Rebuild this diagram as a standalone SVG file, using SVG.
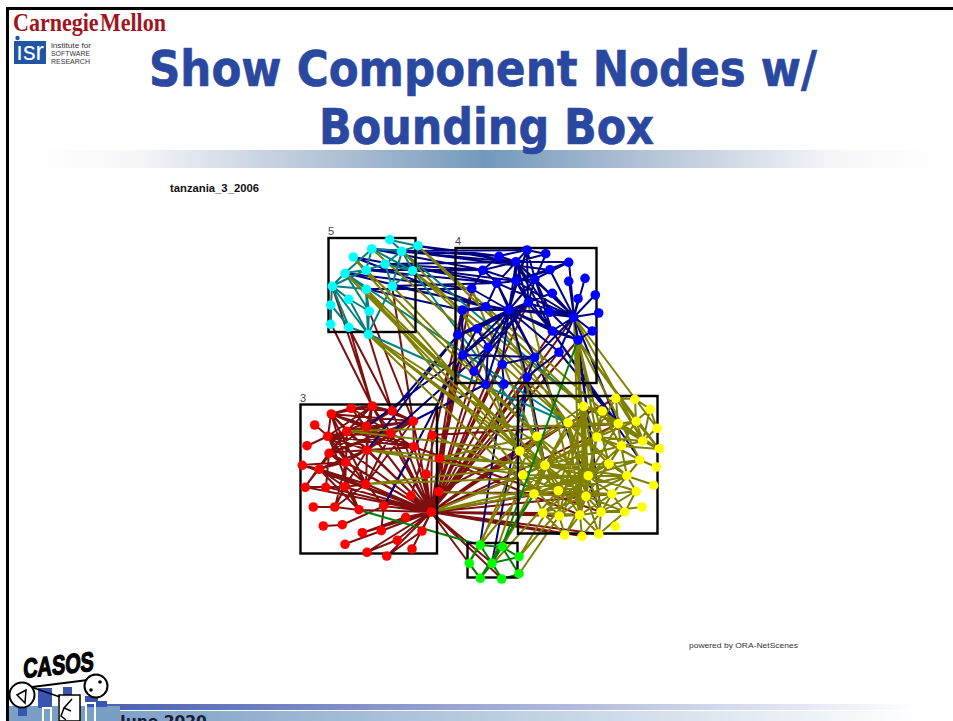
<svg xmlns="http://www.w3.org/2000/svg" width="953" height="721" viewBox="0 0 953 721">
<style>
.e{fill:none;stroke-width:2}
.m{stroke:#7d0f0f}.n{stroke:#000080}.t{stroke:#008080}.o{stroke:#808000}.g{stroke:#008000}
.box{fill:none;stroke:#000;stroke-width:2.4}
.lab{font:11px "Liberation Sans",Arial,sans-serif;fill:#444}
.tt{font:bold 50px "DejaVu Sans",Verdana,sans-serif;fill:#2a48a0;stroke:#2a48a0;stroke-width:.7;text-anchor:middle}
.small{font-family:"Liberation Sans",Arial,sans-serif;fill:#333}
#cy circle{fill:#00ffff}#bl circle{fill:#0000ff}#re circle{fill:#ff0000}#ye circle{fill:#ffff00}#gr circle{fill:#00ff00}
</style>
<defs>
<linearGradient id="top" x1="0" x2="1" y1="0" y2="0"><stop offset="0" stop-color="#fff"/><stop offset=".12" stop-color="#f4f6f9"/><stop offset=".25" stop-color="#cbd5e2"/><stop offset=".38" stop-color="#a0b6ce"/><stop offset=".5" stop-color="#7299bd"/><stop offset=".62" stop-color="#a0b6ce"/><stop offset=".75" stop-color="#cbd5e2"/><stop offset=".88" stop-color="#f4f6f9"/><stop offset="1" stop-color="#fff"/></linearGradient>
<linearGradient id="bt1" x1="0" x2="1" y1="0" y2="0"><stop offset="0" stop-color="#4a5fb0"/><stop offset="1" stop-color="#fff"/></linearGradient>
<linearGradient id="bt2" x1="0" x2="1" y1="0" y2="0"><stop offset="0" stop-color="#7a9fc4"/><stop offset="1" stop-color="#fff"/></linearGradient>
</defs>
<rect width="953" height="721" fill="#fff"/>
<path d="M7.500 721V8.500H953" fill="none" stroke="#000" stroke-width="3"/>
<rect x="30" y="150" width="912" height="18" fill="url(#top)"/>
<rect x="100" y="704" width="820" height="6" fill="url(#bt1)"/>
<rect x="100" y="711" width="820" height="10" fill="url(#bt2)"/>
<g id="cmu-logo">
<text x="13" y="31" font-family="Liberation Serif,serif" font-weight="bold" font-size="26" word-spacing="-5" fill="#a2141c" textLength="153" lengthAdjust="spacingAndGlyphs">Carnegie Mellon</text>
<circle cx="17.500" cy="38" r="2.200" fill="#1f55a5"/>
<rect x="14" y="41" width="32" height="23" fill="#1f55a5"/>
<text x="16" y="60" font-family="Liberation Sans,sans-serif" font-size="25" fill="#fff" textLength="28" lengthAdjust="spacingAndGlyphs">ısr</text>
<text x="51" y="48" class="small" font-size="8" fill="#777" textLength="40" lengthAdjust="spacingAndGlyphs">institute for</text>
<text x="51" y="56" class="small" font-size="7" textLength="39" lengthAdjust="spacingAndGlyphs">SOFTWARE</text>
<text x="51" y="64" class="small" font-size="7" textLength="39" lengthAdjust="spacingAndGlyphs">RESEARCH</text>
</g>
<text x="483" y="86" class="tt" textLength="668" lengthAdjust="spacingAndGlyphs">Show Component Nodes w/</text>
<text x="486.500" y="144" class="tt" textLength="335" lengthAdjust="spacingAndGlyphs">Bounding Box</text>
<text x="170" y="192" font-family="Liberation Sans,sans-serif" font-size="11" font-weight="bold" fill="#111" textLength="89" lengthAdjust="spacingAndGlyphs">tanzania_3_2006</text>
<text x="689" y="648" class="small" font-size="8" textLength="109" lengthAdjust="spacingAndGlyphs">powered by ORA-NetScenes</text>
<g id="casos-logo">
<path d="M9 706H58V721H9zM80 706H120V721H80z" fill="#7a9fc4"/>
<path d="M38 688h14v20H38zM18 708h9v8h-9zM63 687h9v9h-9zM85 696h13v5h9v6H85z" fill="#3a55b0"/>
<path d="M43 721V708h8v13M86 721V703h9v18" stroke="#fff" stroke-width="2" fill="none"/>
<rect x="59" y="695" width="21" height="26" fill="#fff" stroke="#000" stroke-width="1.500"/>
<path d="M72 699L64 708 71 711M64 708L61 716 66 720" fill="none" stroke="#000" stroke-width="1.500"/>
<text transform="translate(23 678) rotate(-6) skewX(-8)" font-family="Liberation Sans,sans-serif" font-weight="bold" font-size="27" fill="#000" textLength="71" lengthAdjust="spacingAndGlyphs" stroke="#000" stroke-width="1.300">CASOS</text>
<path d="M32 687L88 680M34 688L60 697" stroke="#000" stroke-width="1.800" fill="none"/>
<circle cx="22" cy="695" r="12.500" fill="#fff" stroke="#000" stroke-width="2"/>
<path d="M26 690L17 695 25 703Z" fill="none" stroke="#000" stroke-width="1.500"/>
<circle cx="96" cy="686" r="11.500" fill="#fff" stroke="#000" stroke-width="2"/>
<circle cx="100" cy="682" r="1.800"/><circle cx="91" cy="690" r="1.800"/>
</g>
<text x="120" y="727" font-family="DejaVu Sans,sans-serif" font-weight="bold" font-size="15.500" fill="#1a1a3a">June 2020</text>

<g id="connectors">
<path class="e m" d="M431 512L372 406M431 512L351 408M431 512L392 411M431 512L331 414M431 512L413 421M431 512L366 427M431 512L347 431M431 512L391 433M431 512L328 436M431 512L432 435M431 512L414 447M431 512L367 450M431 512L329 453M431 512L439 458M431 512L346 462M431 512L302 465M431 512L319 469M431 512L426 474M431 512L305 487M431 512L326 487M431 512L345 487M431 512L366 484M431 512L439 492M431 512L411 496M431 512L359 510M431 512L384 506M431 512L406 517M431 512L362 533M431 512L381 531M431 512L422 531M431 512L397 540M431 512L367 552M431 512L387 556M431 512L412 549M431 512L472 289M431 512L462 310M431 512L458 335M431 512L463 355M431 512L474 371M431 512L486 384M431 512L504 384M431 512L502 364M431 512L488 347M431 512L527 377M431 512L535 357M431 512L559 352M431 512L578 340M431 512L574 317M431 512L552 331M431 512L528 303M431 512L520 451M431 512L537 436M431 512L568 423M431 512L618 424M431 512L545 465M431 512L523 475M431 512L534 494M431 512L558 491M431 512L612 494M431 512L580 515M431 512L559 516M431 512L543 513M431 512L565 535M431 512L582 536M431 512L480 578M431 512L502 579M431 512L492 563M333 328L372 406M349 327L372 406M351 332L392 411M368 334L392 411M369 311L413 421M392 286L413 421M332 286L372 406M331 414L351 408M331 414L372 406M331 414L366 427M331 414L347 431M331 414L391 433M331 414L367 450M331 414L346 462M331 414L366 484M331 414L414 447M331 414L413 421M331 414L328 436M328 436L372 406M328 436L366 427M328 436L413 421M328 436L414 447M328 436L367 450M328 436L366 484M328 436L384 506M328 436L359 510M328 436L346 462M328 436L391 433M328 436L315 425M328 436L307 446M351 408L372 406M351 408L392 411M351 408L366 427M351 408L391 433M372 406L392 411M372 406L413 421M372 406L391 433M372 406L366 427M372 406L367 450M372 406L347 431M392 411L413 421M392 411L366 427M392 411L347 431M413 421L347 431M413 421L366 427M413 421L391 433M413 421L414 447M413 421L367 450M413 421L329 453M347 431L391 433M347 431L367 450M347 431L414 447M347 431L329 453M347 431L346 462M347 431L319 469M347 431L345 487M366 427L367 450M366 427L329 453M366 427L391 433M391 433L414 447M391 433L367 450M391 433L329 453M391 433L346 462M367 450L414 447M367 450L329 453M367 450L346 462M367 450L319 469M367 450L366 484M367 450L345 487M329 453L346 462M329 453L319 469M329 453L305 487M329 453L326 487M329 453L366 484M346 462L302 465M346 462L319 469M346 462L345 487M346 462L335 507M319 469L302 465M319 469L305 487M319 469L345 487M319 469L366 484M319 469L359 510M305 487L326 487M326 487L345 487M345 487L366 484M345 487L335 507M345 487L359 510M335 507L366 484M313 507L335 507M335 507L359 510M323 526L342 525M342 525L384 506M345 544L381 531M362 533L406 517M381 531L384 506M367 552L397 540M387 556L422 531M307 446L328 436M366 484L413 421M366 484L391 433M414 447L384 506M439 458L463 355M439 492L458 335M426 474L462 310M411 496L472 289M616 398L439 492M618 424L432 435M601 512L414 447M612 494L439 492M580 515L439 458M599 534L431 512"/>
<path class="e n" d="M367 450L458 335M366 427L463 355M384 506L463 355M413 421L486 384M391 433L488 347M392 411L458 335M480 545L504 384M492 563L527 377M418 246L516 262M418 246L499 256M402 251L527 250M372 249L499 256M372 249L516 262M372 249L483 270M385 264L516 262M385 264L483 270M385 264L516 281M353 257L497 283M353 257L486 307M413 271L483 270M366 270L483 270M366 270L497 283M345 273L472 289M345 273L486 307M392 286L497 283M392 286L509 310M366 289L472 289M366 289L462 310M402 251L550 270M574 317L601 512M578 340L601 512M552 331L640 460M559 352L618 424M535 357L601 512M574 317L618 424M527 377L545 465M520 451L527 377M537 436L527 377M552 331L618 424"/>
<path class="e t" d="M390 240L418 246M390 240L402 251M418 246L402 251M418 246L413 271M402 251L372 249M402 251L385 264M402 251L413 271M402 251L392 286M372 249L345 273M372 249L366 270M372 249L413 271M353 257L366 270M385 264L413 271M385 264L366 270M385 264L392 286M413 271L392 286M366 270L345 273M366 270L332 286M345 273L332 286M345 273L366 289M332 286L366 289M332 286L349 299M332 286L331 305M332 286L368 334M332 286L349 327M345 273L369 311M366 289L368 334M366 289L369 311M349 299L368 334M349 299L369 311M331 305L349 327M331 305L331 324M369 311L368 334M349 327L368 334M392 286L368 334M368 334L568 423M413 271L537 436M402 251L584 406M345 273L568 423"/>
<path class="e o" d="M418 246L618 424M418 246L584 406M402 251L568 423M372 249L568 423M366 270L537 436M353 257L520 451M345 273L520 451M345 273L545 465M366 289L545 465M366 289L523 475M368 334L520 451M368 334L545 465M368 334L534 494M368 334L588 476M392 286L537 436M413 271L584 406M413 271L597 437M347 431L520 451M347 431L618 424M367 450L523 475M367 450L545 465M366 484L588 476M366 484L545 465M439 458L537 436M439 458L545 465M432 435L523 475M439 492L586 496M431 512L588 476M431 512L534 494M431 512L523 475M574 317L588 476M574 317L586 496M574 317L597 437M574 317L580 515M578 340L586 496M578 340L609 464M578 340L640 460M578 340L636 421M578 340L659 449M574 317L643 441M574 317L657 428M528 303L580 515M509 310L545 465M486 307L568 423M472 289L545 465M462 310L534 494M458 335L520 451M480 578L558 491M469 563L537 436M480 545L545 465M502 547L534 494M519 557L588 476M480 545L520 451M492 563L523 475M584 406L588 476M584 406L586 496M584 406L580 515M584 406L559 516M584 406L545 465M584 406L520 451M584 406L618 424M584 406L602 411M584 406L643 441M584 406L597 437M584 406L601 512M584 406L558 491M568 423L588 476M568 423L609 464M568 423L618 424M568 423L520 451M568 423L534 494M568 423L586 496M568 423L627 476M568 423L580 515M597 437L588 476M597 437L586 496M597 437L545 465M597 437L523 475M597 437L643 441M597 437L621 446M597 437L640 460M597 437L636 421M597 437L534 494M597 437L580 515M618 424L643 441M618 424L621 446M618 424L588 476M618 424L545 465M618 424L636 421M618 424L659 449M636 421L643 441M636 421L659 449M636 421L621 446M636 421L609 464M602 411L643 441M602 411L659 449M602 411L588 476M602 411L621 446M602 411L618 424M616 398L618 424M616 398L643 441M616 398L635 399M635 399L650 409M635 399L636 421M650 409L657 428M650 409L636 421M650 409L643 441M657 428L643 441M659 449L643 441M659 449L621 446M656 467L640 460M654 485L627 476M621 446L643 441M621 446L588 476M621 446L545 465M621 446L609 464M621 446L627 476M621 446L586 496M640 460L609 464M640 460L627 476M640 460L588 476M609 464L588 476M609 464L545 465M609 464L586 496M609 464L534 494M609 464L627 476M609 464L558 491M545 465L588 476M545 465L520 451M545 465L537 436M545 465L523 475M545 465L534 494M545 465L558 491M545 465L586 496M545 465L580 515M545 465L627 476M523 475L588 476M523 475L558 491M523 475L534 494M523 475L559 516M588 476L627 476M588 476L586 496M588 476L558 491M588 476L612 494M588 476L534 494M588 476L580 515M588 476L559 516M588 476L543 513M588 476L601 512M588 476L636 491M627 476L586 496M627 476L612 494M627 476L636 491M627 476L558 491M558 491L586 496M558 491L534 494M558 491L612 494M558 491L559 516M534 494L586 496M534 494L543 513M586 496L612 494M586 496L580 515M586 496L559 516M586 496L601 512M586 496L543 513M586 496L625 512M586 496L599 534M612 494L636 491M612 494L601 512M612 494L580 515M612 494L625 512M636 491L625 512M636 491L601 512M642 507L601 512M601 512L625 512M601 512L580 515M601 512L599 534M601 512L582 536M580 515L559 516M580 515L543 513M580 515L565 535M580 515L582 536M580 515L599 534M559 516L543 513M559 516L565 535M543 513L565 535M625 512L599 534M565 535L586 496M582 536L601 512M537 436L588 476M537 436L586 496M520 451L586 496M520 451L558 491M519 557L616 398M502 547L568 423M519 574L559 516"/>
<path class="e g" d="M359 510L480 545M480 545L502 547M480 545L469 563M480 545L492 563M480 545L502 579M502 547L519 557M502 547L492 563M502 547L519 574M519 557L492 563M469 563L480 578M492 563L480 578M492 563L502 579M519 574L502 579M480 578L534 494M502 547L578 340"/>
<path class="e n" d="M527 250L546 254M527 250L499 256M527 250L516 262M527 250L516 281M527 250L535 279M527 250L509 310M527 250L528 303M546 254L516 262M546 254L535 279M499 256L516 262M499 256L483 270M516 262L569 262M516 262L483 270M516 262L497 283M516 262L516 281M516 262L535 279M516 262L509 310M516 262L528 303M516 262L550 312M516 262L574 317M516 262L552 331M569 262L535 279M569 262L574 317M569 262L516 281M550 270L574 317M550 270L516 281M483 270L516 281M483 270L472 289M483 270L497 283M497 283L509 310M497 283L486 307M497 283L516 281M497 283L574 317M516 281L535 279M516 281L509 310M516 281L528 303M516 281L574 317M516 281L552 331M535 279L509 310M535 279L528 303M535 279L550 312M535 279L574 317M535 279L552 331M552 293L509 310M552 293L574 317M569 281L574 317M585 278L574 317M595 295L574 317M578 299L574 317M599 313L574 317M592 331L574 317M592 331L578 340M578 340L574 317M472 289L509 310M486 307L509 310M486 307L462 310M486 307L574 317M462 310L509 310M528 303L509 310M528 303L574 317M528 303L552 331M528 303L477 329M550 312L574 317M550 312L509 310M550 312L578 340M552 331L574 317M552 331L578 340M552 331L509 310M477 329L509 310M458 335L509 310M463 355L509 310M488 347L509 310M474 371L509 310M486 384L509 310M502 364L509 310M535 357L509 310M527 377L509 310M559 352L509 310M559 352L574 317M535 357L574 317M509 310L578 340M458 335L528 303M463 355L528 303M488 347L528 303M474 371L528 303M463 355L477 329M458 335L477 329M458 335L462 310M477 329L488 347M463 355L535 357M486 384L463 355M502 364L535 357M527 377L535 357M527 377L559 352M462 310L463 355M574 317L516 281M574 317L528 303M504 384L502 364M486 384L488 347M535 357L497 283"/>
</g>

<g id="c5-box"><rect class="box" x="328.500" y="238" width="87" height="94"/><text class="lab" x="328" y="235">5</text></g>
<g id="c4-box"><rect class="box" x="455.500" y="248" width="141" height="135"/><text class="lab" x="455" y="245">4</text></g>
<g id="c3-box"><rect class="box" x="300.500" y="404.500" width="136.500" height="149"/><text class="lab" x="300" y="402">3</text></g>
<g id="c2-box"><path class="box" d="M518 533.500H657.500V396H518V535"/></g>
<g id="c1-box"><rect class="box" x="467.500" y="543" width="50" height="34.500"/></g>

<g id="cy">
<g id="cy1"><circle cx="389.700" cy="239.700" r="4.800"/></g><g id="cy2"><circle cx="418" cy="245.700" r="4.800"/></g><g id="cy3"><circle cx="401.700" cy="251.300" r="4.800"/></g><g id="cy4"><circle cx="371.700" cy="249" r="4.800"/></g><g id="cy5"><circle cx="353.300" cy="257" r="4.800"/></g><g id="cy6"><circle cx="385" cy="264" r="4.800"/></g><g id="cy7"><circle cx="412.700" cy="270.700" r="4.800"/></g><g id="cy8"><circle cx="366.300" cy="270.300" r="4.800"/></g><g id="cy9"><circle cx="345" cy="273.300" r="4.800"/></g><g id="cy10"><circle cx="332.300" cy="286.300" r="4.800"/></g><g id="cy11"><circle cx="392.300" cy="286.300" r="4.800"/></g><g id="cy12"><circle cx="366.300" cy="289.300" r="4.800"/></g><g id="cy13"><circle cx="348.700" cy="299.300" r="4.800"/></g><g id="cy14"><circle cx="330.700" cy="305" r="4.800"/></g><g id="cy15"><circle cx="369.300" cy="311.300" r="4.800"/></g><g id="cy16"><circle cx="330.700" cy="324.300" r="4.800"/></g><g id="cy17"><circle cx="348.700" cy="327.300" r="4.800"/></g><g id="cy18"><circle cx="368.300" cy="334.300" r="4.800"/></g>
</g>
<g id="bl">
<g id="bl1"><circle cx="527" cy="250" r="4.800"/></g><g id="bl2"><circle cx="545.700" cy="253.700" r="4.800"/></g><g id="bl3"><circle cx="499" cy="256.300" r="4.800"/></g><g id="bl4"><circle cx="516" cy="261.700" r="4.800"/></g><g id="bl5"><circle cx="568.700" cy="262.300" r="4.800"/></g><g id="bl6"><circle cx="482.700" cy="270.300" r="4.800"/></g><g id="bl7"><circle cx="550" cy="269.700" r="4.800"/></g><g id="bl8"><circle cx="516" cy="280.700" r="4.800"/></g><g id="bl9"><circle cx="534.700" cy="279.300" r="4.800"/></g><g id="bl10"><circle cx="496.700" cy="283.300" r="4.800"/></g><g id="bl11"><circle cx="568.700" cy="281.300" r="4.800"/></g><g id="bl12"><circle cx="585" cy="278.300" r="4.800"/></g><g id="bl13"><circle cx="471.700" cy="288.700" r="4.800"/></g><g id="bl14"><circle cx="552.300" cy="293.300" r="4.800"/></g><g id="bl15"><circle cx="595.300" cy="295" r="4.800"/></g><g id="bl16"><circle cx="578" cy="298.700" r="4.800"/></g><g id="bl17"><circle cx="528.300" cy="302.700" r="4.800"/></g><g id="bl18"><circle cx="485.700" cy="306.700" r="4.800"/></g><g id="bl19"><circle cx="508.700" cy="309.700" r="4.800"/></g><g id="bl20"><circle cx="462.300" cy="310" r="4.800"/></g><g id="bl21"><circle cx="549.700" cy="312.300" r="4.800"/></g><g id="bl22"><circle cx="598.700" cy="313" r="4.800"/></g><g id="bl23"><circle cx="573.700" cy="317.300" r="4.800"/></g><g id="bl24"><circle cx="477.300" cy="328.700" r="4.800"/></g><g id="bl25"><circle cx="552.300" cy="331" r="4.800"/></g><g id="bl26"><circle cx="592.300" cy="331" r="4.800"/></g><g id="bl27"><circle cx="457.700" cy="335" r="4.800"/></g><g id="bl28"><circle cx="578" cy="340" r="4.800"/></g><g id="bl29"><circle cx="488.300" cy="347.300" r="4.800"/></g><g id="bl30"><circle cx="559" cy="352.300" r="4.800"/></g><g id="bl31"><circle cx="463" cy="355" r="4.800"/></g><g id="bl32"><circle cx="534.700" cy="357.300" r="4.800"/></g><g id="bl33"><circle cx="502.300" cy="364.300" r="4.800"/></g><g id="bl34"><circle cx="474" cy="371.300" r="4.800"/></g><g id="bl35"><circle cx="527" cy="377.300" r="4.800"/></g><g id="bl36"><circle cx="485.700" cy="384.300" r="4.800"/></g><g id="bl37"><circle cx="504" cy="384" r="4.800"/></g>
</g>
<g id="re">
<g id="re1"><circle cx="372.300" cy="406" r="4.800"/></g><g id="re2"><circle cx="351" cy="408.300" r="4.800"/></g><g id="re3"><circle cx="392.300" cy="411" r="4.800"/></g><g id="re4"><circle cx="331.300" cy="414" r="4.800"/></g><g id="re5"><circle cx="314.700" cy="425" r="4.800"/></g><g id="re6"><circle cx="413.300" cy="421.300" r="4.800"/></g><g id="re7"><circle cx="366.300" cy="426.700" r="4.800"/></g><g id="re8"><circle cx="346.700" cy="431.300" r="4.800"/></g><g id="re9"><circle cx="390.700" cy="433.300" r="4.800"/></g><g id="re10"><circle cx="327.700" cy="436.300" r="4.800"/></g><g id="re11"><circle cx="432.300" cy="435.300" r="4.800"/></g><g id="re12"><circle cx="307" cy="445.700" r="4.800"/></g><g id="re13"><circle cx="413.700" cy="446.700" r="4.800"/></g><g id="re14"><circle cx="367" cy="450.300" r="4.800"/></g><g id="re15"><circle cx="329" cy="453.300" r="4.800"/></g><g id="re16"><circle cx="439.300" cy="458.300" r="4.800"/></g><g id="re17"><circle cx="345.700" cy="462.300" r="4.800"/></g><g id="re18"><circle cx="302.300" cy="465.300" r="4.800"/></g><g id="re19"><circle cx="319" cy="469.300" r="4.800"/></g><g id="re20"><circle cx="426" cy="474" r="4.800"/></g><g id="re21"><circle cx="305.300" cy="487.300" r="4.800"/></g><g id="re22"><circle cx="325.700" cy="487.300" r="4.800"/></g><g id="re23"><circle cx="344.700" cy="486.700" r="4.800"/></g><g id="re24"><circle cx="365.700" cy="484.300" r="4.800"/></g><g id="re25"><circle cx="438.700" cy="491.700" r="4.800"/></g><g id="re26"><circle cx="411" cy="495.700" r="4.800"/></g><g id="re27"><circle cx="313.300" cy="507" r="4.800"/></g><g id="re28"><circle cx="334.700" cy="507" r="4.800"/></g><g id="re29"><circle cx="359" cy="509.700" r="4.800"/></g><g id="re30"><circle cx="383.700" cy="505.700" r="4.800"/></g><g id="re31"><circle cx="431.300" cy="512" r="4.800"/></g><g id="re32"><circle cx="405.700" cy="517.300" r="4.800"/></g><g id="re33"><circle cx="323.300" cy="526" r="4.800"/></g><g id="re34"><circle cx="342.300" cy="524.700" r="4.800"/></g><g id="re35"><circle cx="362.300" cy="532.700" r="4.800"/></g><g id="re36"><circle cx="381.300" cy="530.700" r="4.800"/></g><g id="re37"><circle cx="422" cy="531" r="4.800"/></g><g id="re38"><circle cx="397.300" cy="540.300" r="4.800"/></g><g id="re39"><circle cx="345" cy="544.300" r="4.800"/></g><g id="re40"><circle cx="367" cy="552.300" r="4.800"/></g><g id="re41"><circle cx="386.700" cy="556" r="4.800"/></g><g id="re42"><circle cx="412" cy="549" r="4.800"/></g>
</g>
<g id="gr">
<g id="gr1"><circle cx="480.300" cy="545" r="4.800"/></g><g id="gr2"><circle cx="502.300" cy="546.700" r="4.800"/></g><g id="gr3"><circle cx="519" cy="556.700" r="4.800"/></g><g id="gr4"><circle cx="469.300" cy="563.300" r="4.800"/></g><g id="gr5"><circle cx="492" cy="563.300" r="4.800"/></g><g id="gr6"><circle cx="519" cy="573.700" r="4.800"/></g><g id="gr7"><circle cx="480.300" cy="578.300" r="4.800"/></g><g id="gr8"><circle cx="501.700" cy="579" r="4.800"/></g>
</g>
<g id="ye">
<g id="ye1"><circle cx="615.700" cy="398.300" r="4.800"/></g><g id="ye2"><circle cx="634.700" cy="399.300" r="4.800"/></g><g id="ye3"><circle cx="583.700" cy="406.300" r="4.800"/></g><g id="ye4"><circle cx="602.300" cy="411" r="4.800"/></g><g id="ye5"><circle cx="650" cy="409.300" r="4.800"/></g><g id="ye6"><circle cx="568" cy="422.700" r="4.800"/></g><g id="ye7"><circle cx="618.300" cy="423.700" r="4.800"/></g><g id="ye8"><circle cx="636.300" cy="421.300" r="4.800"/></g><g id="ye9"><circle cx="657" cy="428.300" r="4.800"/></g><g id="ye10"><circle cx="537" cy="436.300" r="4.800"/></g><g id="ye11"><circle cx="597" cy="437" r="4.800"/></g><g id="ye12"><circle cx="642.700" cy="441" r="4.800"/></g><g id="ye13"><circle cx="621.300" cy="445.700" r="4.800"/></g><g id="ye14"><circle cx="659.300" cy="448.700" r="4.800"/></g><g id="ye15"><circle cx="519.700" cy="451" r="4.800"/></g><g id="ye16"><circle cx="639.700" cy="460" r="4.800"/></g><g id="ye17"><circle cx="609" cy="463.700" r="4.800"/></g><g id="ye18"><circle cx="545" cy="465.300" r="4.800"/></g><g id="ye19"><circle cx="656.300" cy="467" r="4.800"/></g><g id="ye20"><circle cx="522.700" cy="475" r="4.800"/></g><g id="ye21"><circle cx="588.300" cy="475.700" r="4.800"/></g><g id="ye22"><circle cx="627" cy="475.700" r="4.800"/></g><g id="ye23"><circle cx="653.700" cy="485.300" r="4.800"/></g><g id="ye24"><circle cx="558.300" cy="490.700" r="4.800"/></g><g id="ye25"><circle cx="636.300" cy="491.300" r="4.800"/></g><g id="ye26"><circle cx="534" cy="494" r="4.800"/></g><g id="ye27"><circle cx="586" cy="496.300" r="4.800"/></g><g id="ye28"><circle cx="612" cy="494" r="4.800"/></g><g id="ye29"><circle cx="642" cy="507" r="4.800"/></g><g id="ye30"><circle cx="542.700" cy="513" r="4.800"/></g><g id="ye31"><circle cx="559.300" cy="516" r="4.800"/></g><g id="ye32"><circle cx="579.700" cy="515" r="4.800"/></g><g id="ye33"><circle cx="601" cy="512" r="4.800"/></g><g id="ye34"><circle cx="624.700" cy="512" r="4.800"/></g><g id="ye35"><circle cx="615.300" cy="526.300" r="4.800"/></g><g id="ye36"><circle cx="564.700" cy="535" r="4.800"/></g><g id="ye37"><circle cx="582" cy="536.300" r="4.800"/></g><g id="ye38"><circle cx="598.700" cy="534" r="4.800"/></g>
</g>
</svg>
